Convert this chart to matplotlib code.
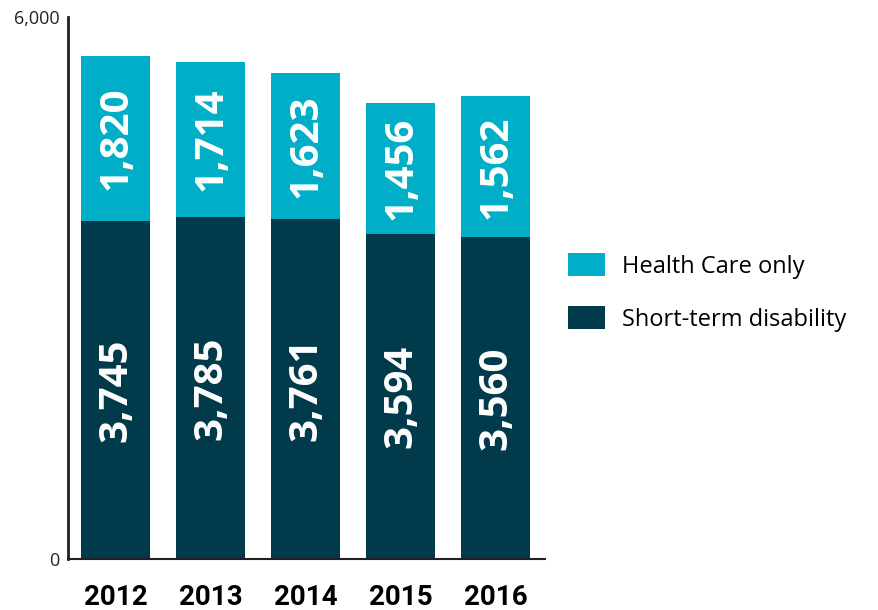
import matplotlib
matplotlib.use("Agg")
import matplotlib.pyplot as plt
from matplotlib.patches import Patch

years = ["2012", "2013", "2014", "2015", "2016"]
short_term = [3745, 3785, 3761, 3594, 3560]
health_care = [1820, 1714, 1623, 1456, 1562]
series_names = ["Health Care only", "Short-term disability"]
ytick_vals = [0, 6000]
ytick_labels = ["0", "6,000"]

c_light = "#00AEC7"
c_dark = "#013A4A"

fig = plt.figure(figsize=(8.79, 6.10), dpi=100)
ax = fig.add_axes([68/879, 1-559/610, (545-68)/879, (559-17)/610])

x = list(range(len(years)))
w = 0.726
ax.bar(x, short_term, width=w, color=c_dark, zorder=2)
ax.bar(x, health_care, width=w, bottom=short_term, color=c_light, zorder=2)

for i in x:
    ax.text(i, short_term[i]/2, f"{short_term[i]:,}", rotation=90, ha="center", va="center",
            color="white", fontsize=29, fontweight="bold", family="Open Sans", zorder=3)
    ax.text(i, short_term[i] + health_care[i]/2, f"{health_care[i]:,}", rotation=90,
            ha="center", va="center", color="white", fontsize=29, fontweight="bold",
            family="Open Sans", zorder=3)

ax.set_xlim(-0.505, 4.52)
ax.set_ylim(0, 6000)
ax.set_yticks(ytick_vals)
ax.set_yticklabels(ytick_labels, family="Open Sans", fontsize=13, color="#222222")
ax.set_xticks(x)
ax.set_xticklabels(years, family="Roboto", fontweight="bold", fontsize=20, color="black")
ax.tick_params(axis="y", length=0, pad=6)
ax.tick_params(axis="x", length=0, pad=18)
for s in ["top", "right"]:
    ax.spines[s].set_visible(False)
ax.spines["left"].set_linewidth(2)
ax.spines["left"].set_color("#231f20")
ax.spines["bottom"].set_linewidth(1.5)
ax.spines["bottom"].set_color("#231f20")

handles = [Patch(facecolor=c_light, edgecolor="none"), Patch(facecolor=c_dark, edgecolor="none")]
fig.legend(handles, series_names, loc="upper left", bbox_to_anchor=(568/879, 1-253/610),
           frameon=False, borderpad=0, borderaxespad=0,
           prop={"family": "Open Sans", "size": 17},
           handlelength=1.55, handleheight=1.15, handletextpad=0.75, labelspacing=1.15)

fig.savefig("out.png", dpi=100)
